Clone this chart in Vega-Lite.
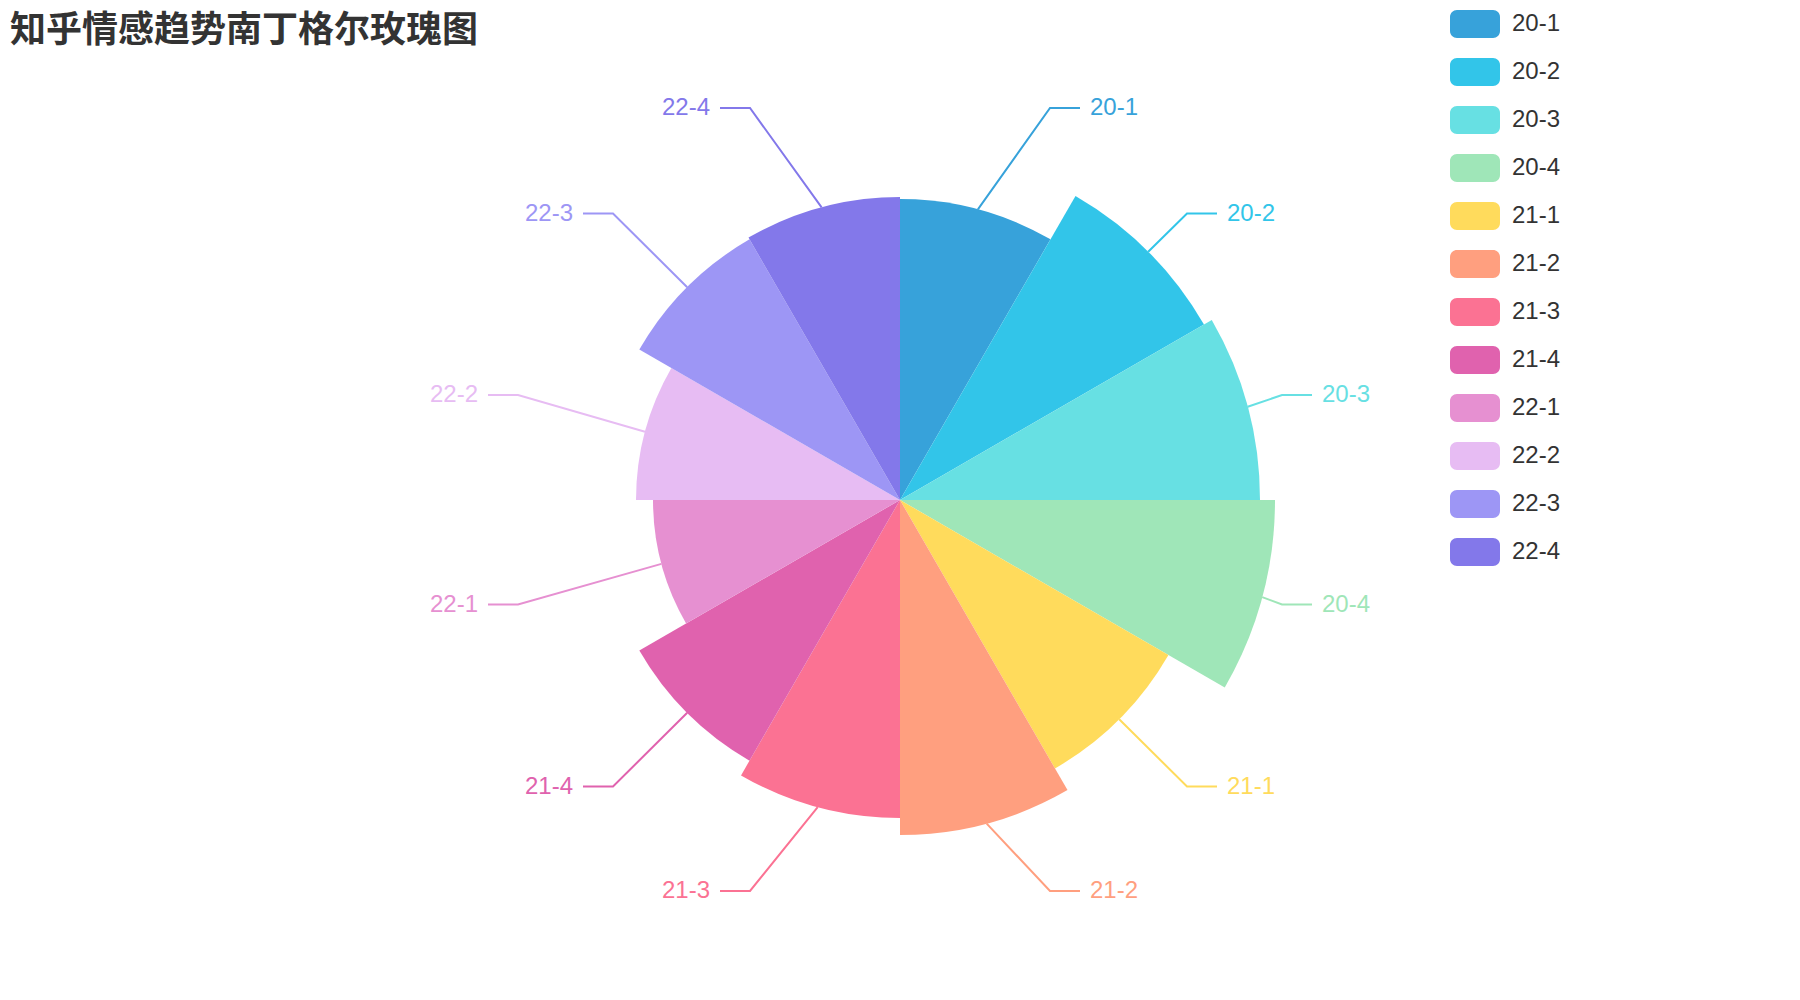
{
  "$schema": "https://vega.github.io/schema/vega-lite/v6.json",
  "width": 1800,
  "height": 1000,
  "autosize": {"type": "none"},
  "padding": 0,
  "background": "white",
  "title": {
    "text": "知乎情感趋势南丁格尔玫瑰图",
    "anchor": "start",
    "frame": "group",
    "orient": "top",
    "offset": -50,
    "dx": 10,
    "font": "Noto Sans CJK SC",
    "fontSize": 36,
    "fontWeight": "bold",
    "color": "#333333"
  },
  "config": {"view": {"stroke": null}},
  "datasets": {
    "sectors": [
      {"period": "20-1", "idx": 1, "share": 1, "value": 301},
      {"period": "20-2", "idx": 2, "share": 1, "value": 351},
      {"period": "20-3", "idx": 3, "share": 1, "value": 360},
      {"period": "20-4", "idx": 4, "share": 1, "value": 375},
      {"period": "21-1", "idx": 5, "share": 1, "value": 310},
      {"period": "21-2", "idx": 6, "share": 1, "value": 335},
      {"period": "21-3", "idx": 7, "share": 1, "value": 318},
      {"period": "21-4", "idx": 8, "share": 1, "value": 301},
      {"period": "22-1", "idx": 9, "share": 1, "value": 247},
      {"period": "22-2", "idx": 10, "share": 1, "value": 264},
      {"period": "22-3", "idx": 11, "share": 1, "value": 301},
      {"period": "22-4", "idx": 12, "share": 1, "value": 303}
    ],
    "leaders": [
      {"period": "20-1", "pt": 0, "x": 77.9, "y": 290.7},
      {"period": "20-1", "pt": 1, "x": 150, "y": 392},
      {"period": "20-1", "pt": 2, "x": 180, "y": 392},
      {"period": "20-2", "pt": 0, "x": 248.2, "y": 248.2},
      {"period": "20-2", "pt": 1, "x": 287, "y": 286.5},
      {"period": "20-2", "pt": 2, "x": 317, "y": 286.5},
      {"period": "20-3", "pt": 0, "x": 347.7, "y": 93.2},
      {"period": "20-3", "pt": 1, "x": 382, "y": 105},
      {"period": "20-3", "pt": 2, "x": 412, "y": 105},
      {"period": "20-4", "pt": 0, "x": 362.2, "y": -97.1},
      {"period": "20-4", "pt": 1, "x": 382, "y": -104.5},
      {"period": "20-4", "pt": 2, "x": 412, "y": -104.5},
      {"period": "21-1", "pt": 0, "x": 219.2, "y": -219.2},
      {"period": "21-1", "pt": 1, "x": 287, "y": -286.5},
      {"period": "21-1", "pt": 2, "x": 317, "y": -286.5},
      {"period": "21-2", "pt": 0, "x": 86.7, "y": -323.6},
      {"period": "21-2", "pt": 1, "x": 150, "y": -391},
      {"period": "21-2", "pt": 2, "x": 180, "y": -391},
      {"period": "21-3", "pt": 0, "x": -82.3, "y": -307.2},
      {"period": "21-3", "pt": 1, "x": -150, "y": -391},
      {"period": "21-3", "pt": 2, "x": -180, "y": -391},
      {"period": "21-4", "pt": 0, "x": -212.8, "y": -212.8},
      {"period": "21-4", "pt": 1, "x": -287, "y": -286.5},
      {"period": "21-4", "pt": 2, "x": -317, "y": -286.5},
      {"period": "22-1", "pt": 0, "x": -238.6, "y": -63.9},
      {"period": "22-1", "pt": 1, "x": -382, "y": -104.5},
      {"period": "22-1", "pt": 2, "x": -412, "y": -104.5},
      {"period": "22-2", "pt": 0, "x": -255, "y": 68.3},
      {"period": "22-2", "pt": 1, "x": -382, "y": 105},
      {"period": "22-2", "pt": 2, "x": -412, "y": 105},
      {"period": "22-3", "pt": 0, "x": -212.8, "y": 212.8},
      {"period": "22-3", "pt": 1, "x": -287, "y": 286.5},
      {"period": "22-3", "pt": 2, "x": -317, "y": 286.5},
      {"period": "22-4", "pt": 0, "x": -78.4, "y": 292.7},
      {"period": "22-4", "pt": 1, "x": -150, "y": 392},
      {"period": "22-4", "pt": 2, "x": -180, "y": 392}
    ],
    "labels": [
      {"period": "20-1", "side": "right", "x": 180, "y": 392},
      {"period": "20-2", "side": "right", "x": 317, "y": 286.5},
      {"period": "20-3", "side": "right", "x": 412, "y": 105},
      {"period": "20-4", "side": "right", "x": 412, "y": -104.5},
      {"period": "21-1", "side": "right", "x": 317, "y": -286.5},
      {"period": "21-2", "side": "right", "x": 180, "y": -391},
      {"period": "21-3", "side": "left", "x": -180, "y": -391},
      {"period": "21-4", "side": "left", "x": -317, "y": -286.5},
      {"period": "22-1", "side": "left", "x": -412, "y": -104.5},
      {"period": "22-2", "side": "left", "x": -412, "y": 105},
      {"period": "22-3", "side": "left", "x": -317, "y": 286.5},
      {"period": "22-4", "side": "left", "x": -180, "y": 392}
    ]
  },
  "layer": [
    {
      "data": {"name": "sectors"},
      "transform": [
        {"stack": "share", "groupby": [], "sort": [{"field": "idx", "order": "ascending"}], "as": ["t0", "t1"]}
      ],
      "mark": {"type": "arc", "strokeWidth": 0},
      "encoding": {
        "theta": {"field": "t0", "type": "quantitative", "scale": {"domain": [0, 12], "nice": false, "zero": true}},
        "theta2": {"field": "t1"},
        "radius": {"field": "value", "type": "quantitative", "scale": {"type": "linear", "zero": true, "nice": false, "domain": [0, 375], "range": [0, 375]}},
        "color": {
          "field": "period",
          "type": "nominal",
          "scale": {
            "domain": ["20-1", "20-2", "20-3", "20-4", "21-1", "21-2", "21-3", "21-4", "22-1", "22-2", "22-3", "22-4"],
            "range": ["#37a2da", "#32c5e9", "#67e0e3", "#9fe6b8", "#ffdb5c", "#ff9f7f", "#fb7293", "#e062ae", "#e690d1", "#e7bcf3", "#9d96f5", "#8378ea"]
          },
          "legend": {
            "orient": "none",
            "legendX": 1450,
            "legendY": 10,
            "title": null,
            "padding": 0,
            "symbolType": "M-0.5,-1 H2.071 A0.5,0.5 0 0 1 2.571,-0.5 V0.5 A0.5,0.5 0 0 1 2.071,1 H-0.5 A0.5,0.5 0 0 1 -1,0.5 V-0.5 A0.5,0.5 0 0 1 -0.5,-1 Z",
            "symbolSize": 784,
            "symbolStrokeWidth": 0,
            "symbolOpacity": 1,
            "labelFont": "Liberation Sans",
            "labelFontSize": 24,
            "labelColor": "#333333",
            "labelOffset": 34,
            "rowPadding": 20
          }
        }
      }
    },
    {
      "data": {"name": "leaders"},
      "mark": {"type": "line", "strokeWidth": 2},
      "encoding": {
        "x": {"field": "x", "type": "quantitative", "scale": {"domain": [-900, 900], "nice": false, "zero": false}, "axis": null},
        "y": {"field": "y", "type": "quantitative", "scale": {"domain": [-500, 500], "nice": false, "zero": false}, "axis": null},
        "color": {"field": "period", "type": "nominal", "legend": null},
        "order": {"field": "pt", "type": "quantitative"}
      }
    },
    {
      "data": {"name": "labels"},
      "transform": [{"filter": "datum.side === 'right'"}],
      "mark": {"type": "text", "align": "left", "baseline": "middle", "dx": 10, "font": "Liberation Sans", "fontSize": 24},
      "encoding": {
        "x": {"field": "x", "type": "quantitative", "axis": null},
        "y": {"field": "y", "type": "quantitative", "axis": null},
        "text": {"field": "period", "type": "nominal"},
        "color": {"field": "period", "type": "nominal", "legend": null}
      }
    },
    {
      "data": {"name": "labels"},
      "transform": [{"filter": "datum.side === 'left'"}],
      "mark": {"type": "text", "align": "right", "baseline": "middle", "dx": -10, "font": "Liberation Sans", "fontSize": 24},
      "encoding": {
        "x": {"field": "x", "type": "quantitative", "axis": null},
        "y": {"field": "y", "type": "quantitative", "axis": null},
        "text": {"field": "period", "type": "nominal"},
        "color": {"field": "period", "type": "nominal", "legend": null}
      }
    }
  ]
}
